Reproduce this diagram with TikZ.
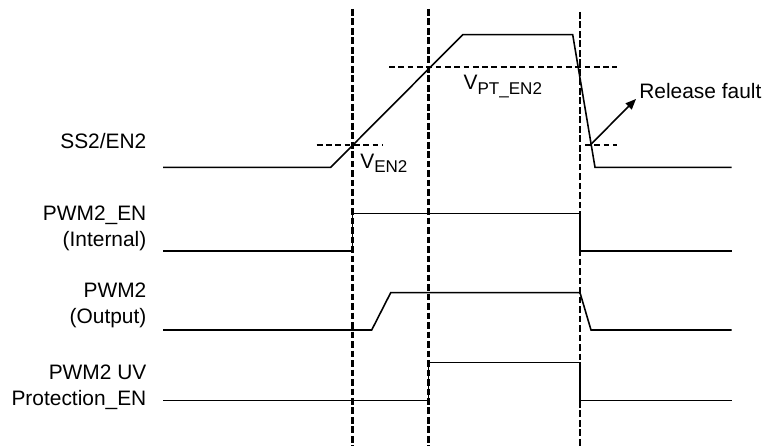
\documentclass[tikz,border=0pt]{standalone}
\usepackage{fontspec}
\setmainfont{Liberation Sans}
\usepackage{tikz}
\usetikzlibrary{arrows.meta,positioning,calc}

\newcommand{\sigsub}[1]{\raisebox{-2.3pt}{\fontsize{9.7}{11}\selectfont #1}}

\begin{document}
\begin{tikzpicture}[
  x=0.02cm, y=-0.02cm,
  wave/.style={line width=0.9pt, line join=miter},
  marker/.style={line width=1.5pt, dash pattern=on 3.8pt off 1.6pt},
  level/.style={line width=1.2pt, dash pattern=on 3.3pt off 2pt},
  sigtext/.style={inner sep=0pt, align=right, font=\fontsize{11.9}{14.74}\selectfont},
  note/.style={inner sep=0pt, font=\fontsize{11.9}{14.74}\selectfont}]
\useasboundingbox (0,0) rectangle (764,446);
% Time markers
\draw[marker] (352.7,9) -- (352.7,446);
\draw[marker] (428.3,9) -- (428.3,446);
\draw[marker] (580,12) -- (580,446);
% Threshold levels on SS2/EN2
\draw[level] (316.7,144.7) -- (382.7,144.7);
\draw[level] (389,67) -- (616.7,67);
\draw[level] (585,145) -- (616.7,145);
% Signal names (base anchor = last line)
\node[sigtext, anchor=base east] (ss) at (146.7,148.5) {SS2/EN2};
\node[sigtext, anchor=base east] (pwmen) at (146.7,246.7) {PWM2\_EN\\(Internal)};
\node[sigtext, anchor=base east] (pwm) at (146.7,323.3) {PWM2\\(Output)};
\node[sigtext, anchor=base east] (uven) at (146.7,405.7) {PWM2 UV\\Protection\_EN};
% SS2/EN2 soft-start ramp
\draw[wave] (163,167.3) -- (330.7,167.3) -- (462.7,34.7) -- (572.7,34.7)
  -- (595,167.3) -- (731.7,167.3);
% PWM2_EN
\draw[wave] (163,251) -- (352.7,251) -- (352.7,213.3) -- (580,213.3)
  -- (580,251) -- (731.7,251);
% PWM2 output
\draw[wave] (163,330) -- (371.7,330) -- (390.7,292.7) -- (580,292.7)
  -- (591,330) -- (731.7,330);
% UV protection enable
\draw[wave] (163,400.7) -- (428.3,400.7) -- (428.3,362.7) -- (580,362.7)
  -- (580,400.7) -- (731.7,400.7);
% Threshold labels
\node[note, anchor=base west] (ven) at (360,168.3) {V\sigsub{EN2}};
\node[note, anchor=base west] (vpt) at (463.3,90) {V\sigsub{PT\_EN2}};
\node[note, anchor=base west] (release) at (639,99) {Release fault};
\coordinate (relpt) at (590.7,144.5);
\draw[wave, -{Triangle[length=0.21cm,width=0.17cm]}] (relpt) -- ($(release.base west)+(-3,0)$);
\end{tikzpicture}
\end{document}
